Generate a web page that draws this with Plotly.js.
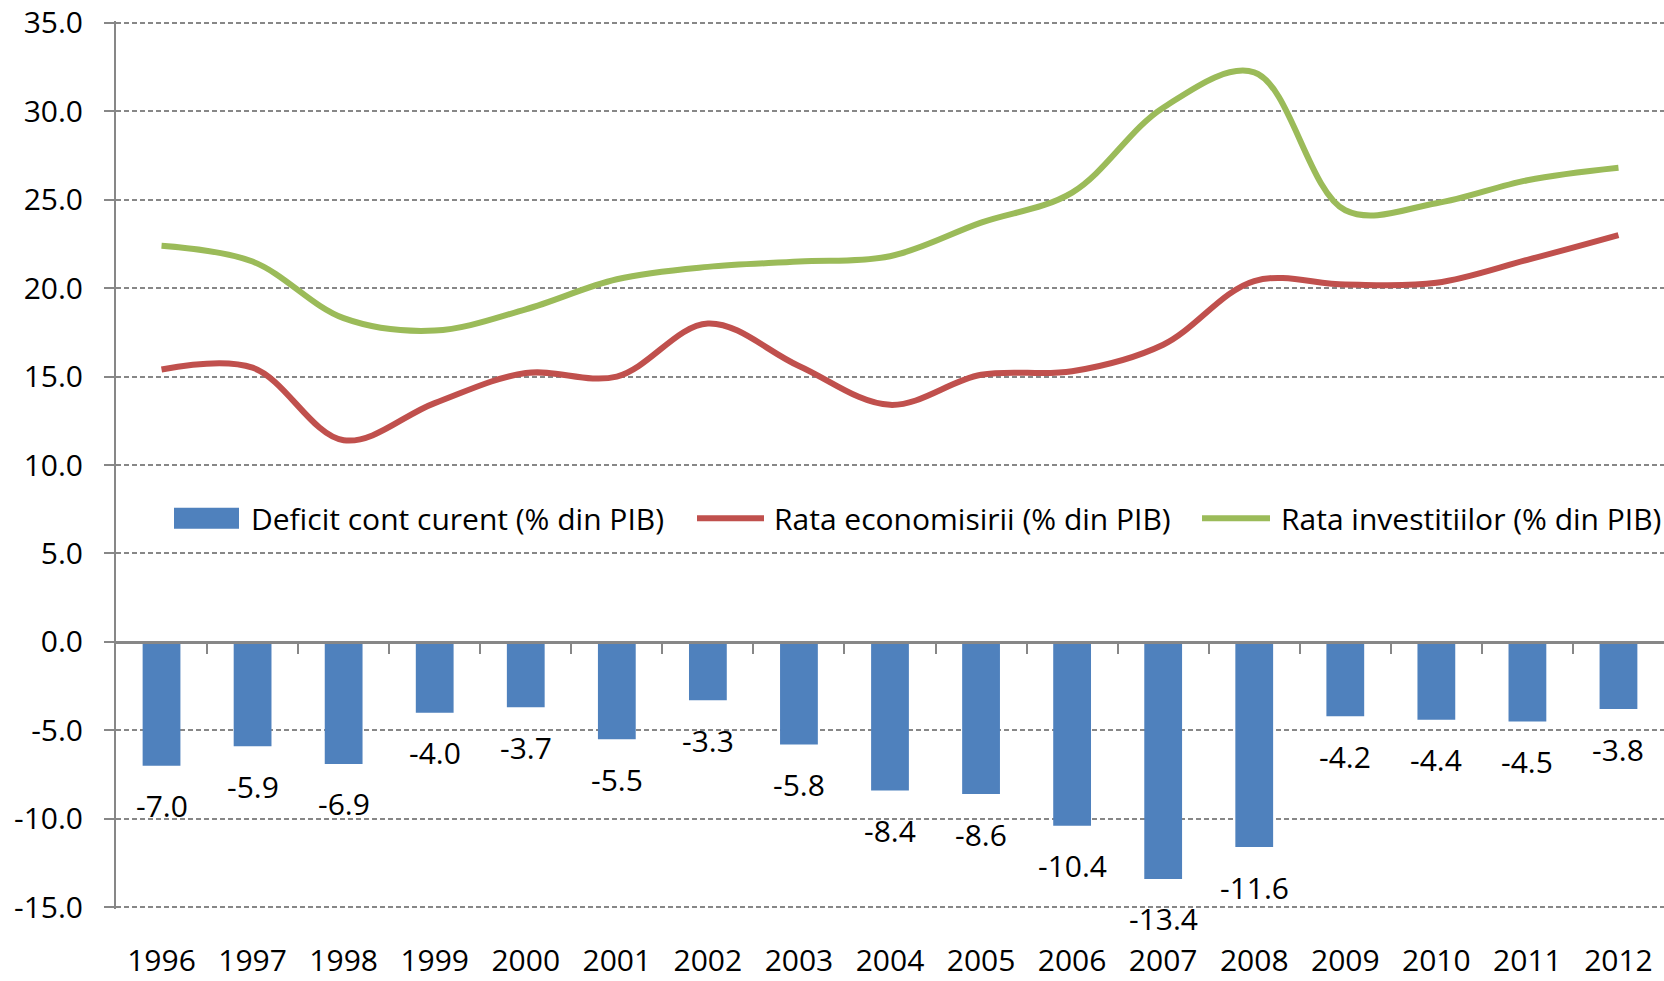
<!DOCTYPE html>
<html>
<head>
<meta charset="utf-8">
<script src="https://cdn.plot.ly/plotly-3.0.1.min.js"></script>
<style>
  html, body { margin: 0; padding: 0; background: #ffffff; }
  #chart { width: 1664px; height: 981px; }
</style>
</head>
<body>
<div id="chart"></div>
<script>
// ---- Data ----
const years = ['1996','1997','1998','1999','2000','2001','2002','2003','2004','2005','2006','2007','2008','2009','2010','2011','2012'];
const deficit = [-7.0, -5.9, -6.9, -4.0, -3.7, -5.5, -3.3, -5.8, -8.4, -8.6, -10.4, -13.4, -11.6, -4.2, -4.4, -4.5, -3.8];
const savings = [15.4, 15.5, 11.4, 13.5, 15.2, 15.0, 18.0, 15.6, 13.4, 15.1, 15.3, 16.8, 20.4, 20.2, 20.3, 21.6, 23.0];
const investment = [22.4, 21.5, 18.3, 17.6, 18.8, 20.5, 21.2, 21.5, 21.8, 23.7, 25.4, 30.2, 32.2, 24.4, 24.8, 26.1, 26.8];
const seriesNames = ['Deficit cont curent (% din PIB)', 'Rata economisirii (% din PIB)', 'Rata investitiilor (% din PIB)'];
const yTickVals = [-15, -10, -5, 0, 5, 10, 15, 20, 25, 30, 35];
const yTickText = ['-15.0', '-10.0', '-5.0', '0.0', '5.0', '10.0', '15.0', '20.0', '25.0', '30.0', '35.0'];

// ---- Styles ----
const W = 1664, H = 981;
const M = { l: 116, r: 0, t: 20.5, b: 72.2 };
const PW = W - M.l - M.r, PH = H - M.t - M.b;
const FONT = '"Open Sans", "Liberation Sans", sans-serif';
const GRAY = '#878787';
const BLUE = '#4F81BD', RED = '#C0504D', GREEN = '#9BBB59';
const YMIN = -15.1, YMAX = 35.1;

const idx = years.map((_, i) => i);   // category positions on the x axis
const px = X => (X - M.l) / PW;       // pixel x -> paper
const py = Y => (M.t + PH - Y) / PH;  // pixel y -> paper

const traces = [
  {
    type: 'bar', x: idx, y: deficit, name: seriesNames[0],
    marker: { color: BLUE }, width: 0.415, showlegend: false
  },
  {
    type: 'scatter', mode: 'lines', x: idx, y: savings, name: seriesNames[1],
    line: { color: RED, width: 6, shape: 'spline', smoothing: 1 }, showlegend: false
  },
  {
    type: 'scatter', mode: 'lines', x: idx, y: investment, name: seriesNames[2],
    line: { color: GREEN, width: 6, shape: 'spline', smoothing: 1 }, showlegend: false
  },
  { type: 'scatter', mode: 'markers', x: [0], y: [0], xaxis: 'x2', yaxis: 'y', opacity: 0,
    showlegend: false, hoverinfo: 'skip' }
];

// data labels below bars
const annotations = deficit.map((v, i) => ({
  x: idx[i], y: v, xref: 'x', yref: 'y', text: v.toFixed(1), showarrow: false,
  yanchor: 'middle', xanchor: 'center', yshift: -40,
  font: { family: FONT, size: 30, color: '#000' }
}));

// custom legend
const legendY = 518;
const legendItems = [
  { sym: 'rect', x0: 174, x1: 239, tx: 249, color: BLUE, name: seriesNames[0] },
  { sym: 'line', x0: 697, x1: 764, tx: 772, color: RED, name: seriesNames[1] },
  { sym: 'line', x0: 1202, x1: 1270, tx: 1279, color: GREEN, name: seriesNames[2] }
];
const shapes = [];
legendItems.forEach(it => {
  if (it.sym === 'rect') {
    shapes.push({ type: 'rect', xref: 'paper', yref: 'paper', x0: px(it.x0), x1: px(it.x1),
      y0: py(legendY + 10.5), y1: py(legendY - 10.5), fillcolor: it.color, line: { width: 0 } });
  } else {
    shapes.push({ type: 'line', xref: 'paper', yref: 'paper', x0: px(it.x0), x1: px(it.x1),
      y0: py(legendY), y1: py(legendY), line: { color: it.color, width: 6 } });
  }
  annotations.push({ xref: 'paper', yref: 'paper', x: px(it.tx), y: py(legendY), text: it.name,
    showarrow: false, xanchor: 'left', yanchor: 'middle', font: { family: FONT, size: 30, color: '#000' } });
});

const layout = {
  width: W, height: H,
  margin: M,
  paper_bgcolor: '#ffffff', plot_bgcolor: '#ffffff',
  font: { family: FONT, size: 30, color: '#000' },
  showlegend: false,
  xaxis: {
    type: 'linear', range: [-0.5, 16.5], tickvals: idx, ticktext: years,
    showgrid: false, zeroline: false, showline: false,
    ticks: '', tickfont: { family: FONT, size: 30, color: '#000' }, ticklabelstandoff: 31,
    ticklabeloverflow: 'allow', fixedrange: true
  },
  xaxis2: {
    type: 'linear', overlaying: 'x', anchor: 'free', position: (0 - YMIN) / (YMAX - YMIN),
    range: [-0.5, 16.5], showgrid: false, zeroline: false, showline: true, linecolor: GRAY, linewidth: 3,
    ticks: 'outside', ticklen: 10, tickwidth: 2, tickcolor: GRAY,
    tickvals: idx.slice(1).map(i => i - 0.5), showticklabels: false, fixedrange: true
  },
  yaxis: {
    range: [YMIN, YMAX], tickvals: yTickVals, ticktext: yTickText,
    showgrid: true, gridcolor: GRAY, gridwidth: 2, griddash: '5px,3px',
    zeroline: false, showline: true, linecolor: GRAY, linewidth: 2,
    ticks: 'outside', ticklen: 10, tickwidth: 2, tickcolor: GRAY,
    tickfont: { family: FONT, size: 30, color: '#000' }, ticklabelstandoff: 15,
    ticklabeloverflow: 'allow', fixedrange: true
  },
  shapes: shapes,
  annotations: annotations
};

Plotly.newPlot('chart', traces, layout, { displayModeBar: false, staticPlot: true });
</script>
</body>
</html>
